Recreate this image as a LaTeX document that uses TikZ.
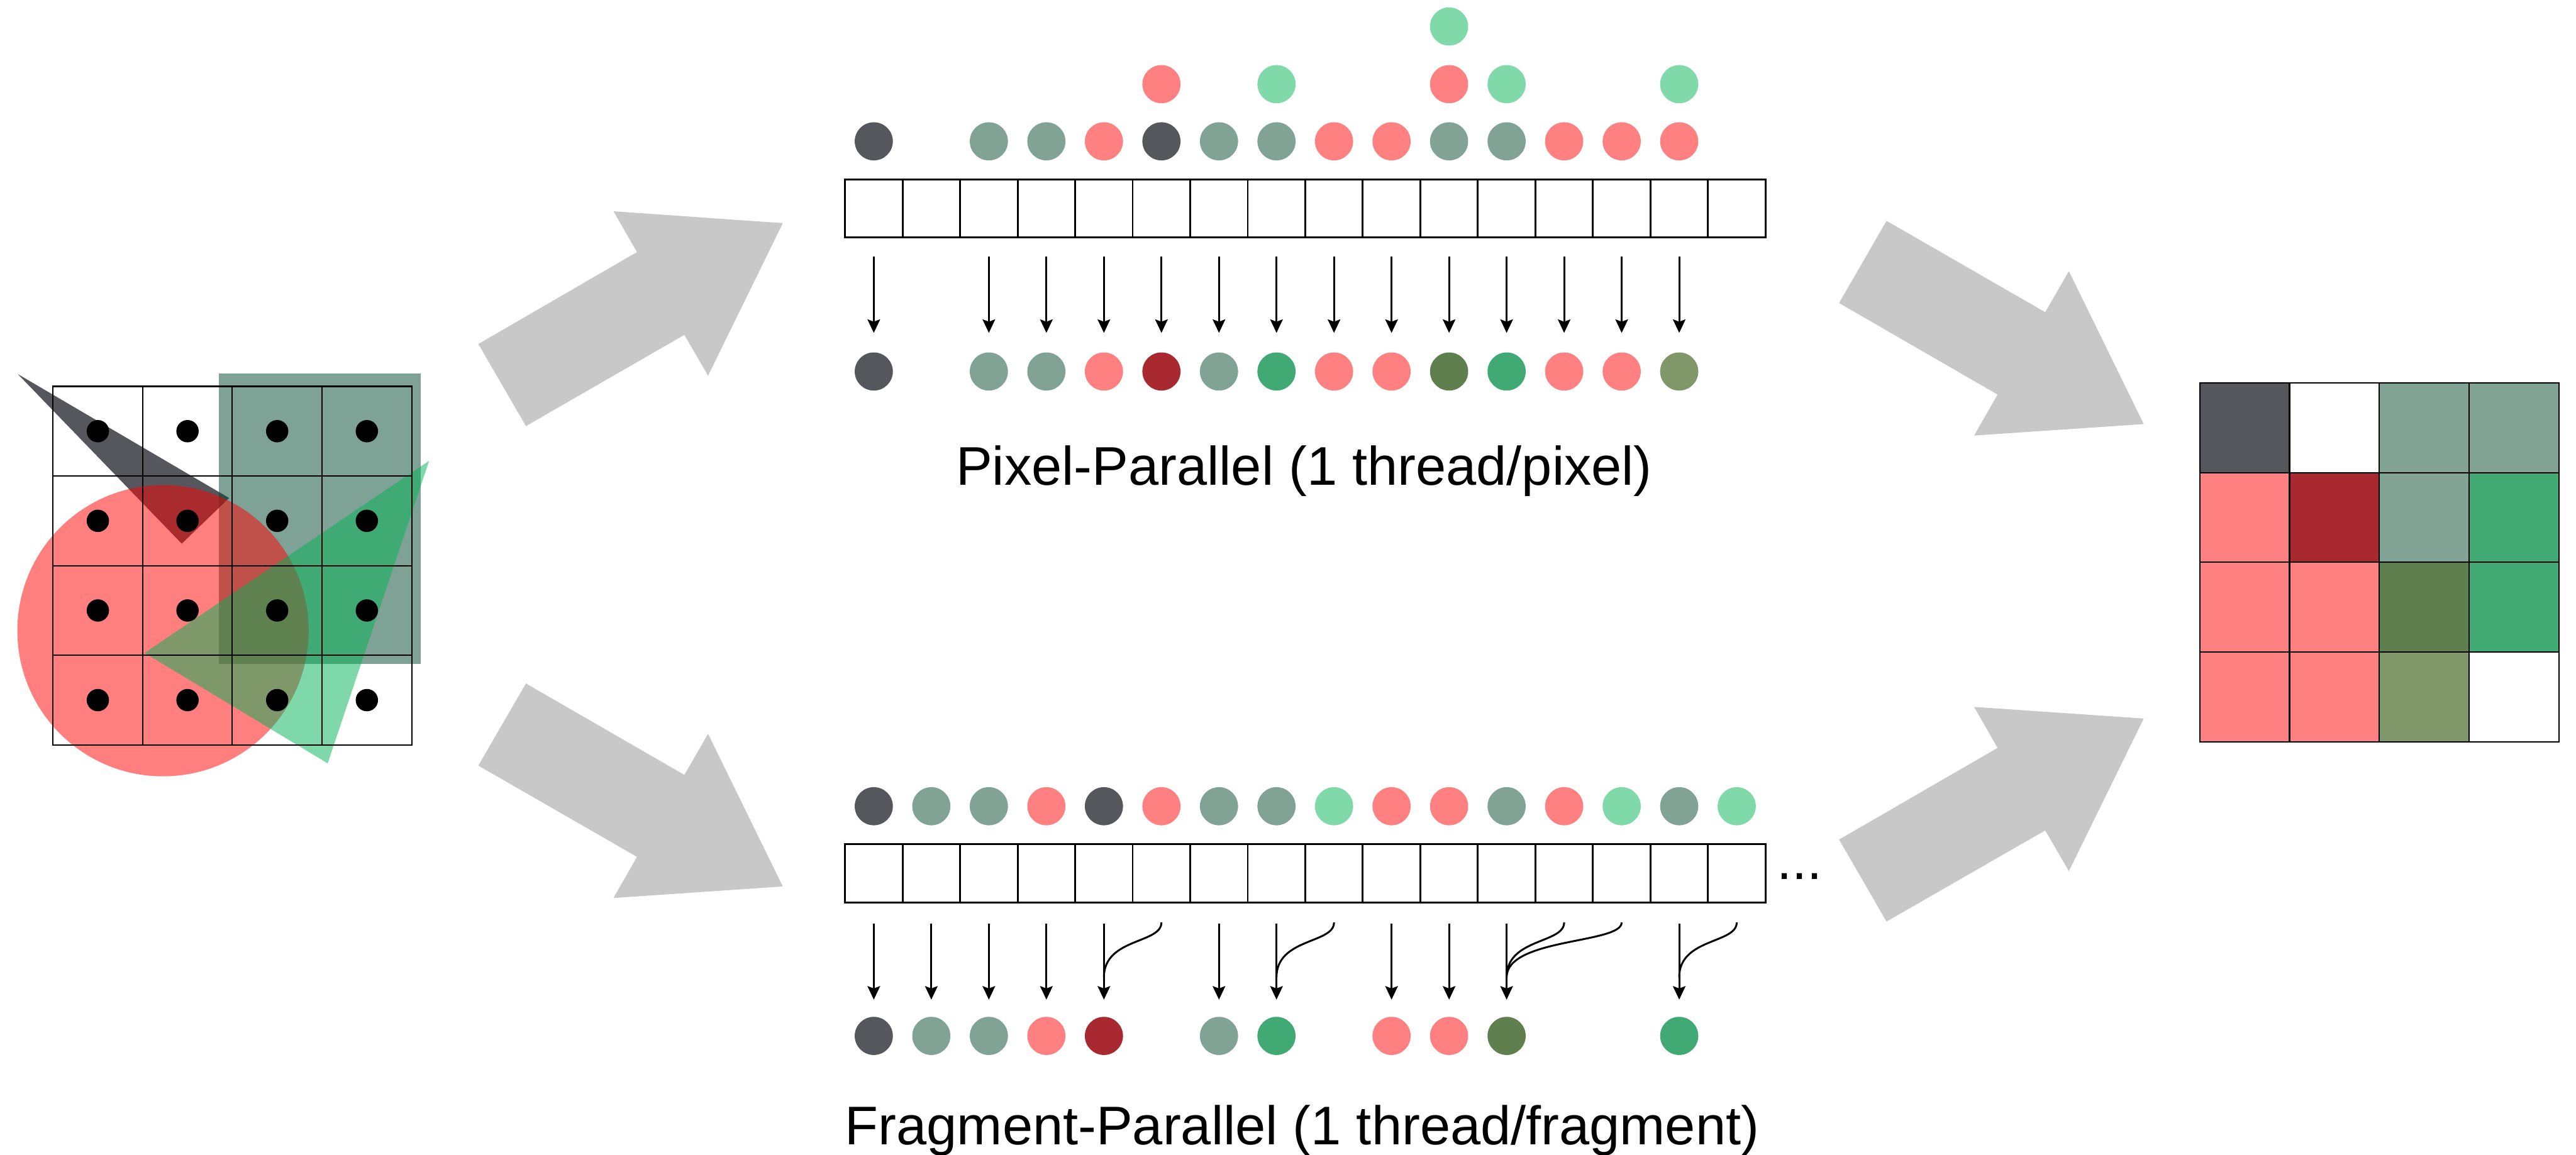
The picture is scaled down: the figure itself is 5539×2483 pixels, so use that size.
\documentclass[tikz,border=0pt]{standalone}
\usepackage{fontspec}
\setmainfont{Liberation Sans}
\usetikzlibrary{arrows.meta}

% palette
\definecolor{cdark}{RGB}{85,87,92}
\definecolor{cteal}{RGB}{128,163,150}
\definecolor{cpink}{RGB}{255,128,128}
\definecolor{clgreen}{RGB}{128,217,168}
\definecolor{cdred}{RGB}{168,42,48}
\definecolor{cgreen}{RGB}{65,169,115}
\definecolor{cdolive}{RGB}{95,127,78}
\definecolor{colive}{RGB}{128,152,105}
\definecolor{carrow}{RGB}{200,200,200}
\definecolor{rectcol}{RGB}{0,70,45}
\definecolor{trigreen}{RGB}{0,178,85}

\begin{document}
\begin{tikzpicture}[x=0.01cm,y=-0.01cm,
  dot/.style={circle,inner sep=0pt,minimum size=8.2mm,draw=none},
  sampledot/.style={circle,inner sep=0pt,minimum size=4.8mm,fill=black,draw=none},
  cellbox/.style={draw=black,line width=1.1pt,minimum width=12.37mm,minimum height=12.5mm,inner sep=0pt,outer sep=0pt},
  pixcell/.style={draw=black,line width=0.8pt,minimum size=19.3mm,inner sep=0pt,outer sep=0pt},
  gridline/.style={line width=0.8pt,line cap=rect},
  flow/.style={line width=1.15pt,-{Stealth[length=2.9mm,width=2.7mm,inset=0.5mm]}},
  merge/.style={line width=1.15pt},
  fatarrow/.style={fill=carrow,draw=none},
  lbl/.style={font=\fontsize{33.3}{40}\selectfont,inner sep=0pt,outer sep=0pt}]
\useasboundingbox (0,0) rectangle (5539,2483);

% ---------------- input primitives over the pixel grid ----------------
\fill[cdark] (38.2,804.5) -- (492.6,1071.1) -- (390.8,1169.3) -- cycle;
\fill[rectcol,fill opacity=0.5] (470.8,802.7) rectangle (905.2,1428.6);
\fill[red,fill opacity=0.5] (350.5,1356.5) circle[radius=3.13cm];
\fill[trigreen,fill opacity=0.5] (922.7,991.1) -- (310.8,1404.3) -- (704.6,1641.8) -- cycle;

\foreach \k in {0,...,4}{
  \draw[gridline] ({114+192.8*\k},831) -- ({114+192.8*\k},1602);
  \draw[gridline] (114,{831+192.8*\k}) -- (885,{831+192.8*\k});
}
\foreach \r in {0,...,3}{
  \foreach \c in {0,...,3}{
    \node[sampledot] (s\r\c) at ({114+192.8*(\c+0.5)},{831+192.8*(\r+0.5)}) {};
  }
}

% ---------------- fat arrows ----------------
\fill[fatarrow] (1028.5,739.9) -- (1369.6,542.2) -- (1319.1,454.4) -- (1683.2,479.9)
  -- (1522.5,808.1) -- (1471.5,720.2) -- (1130.9,916.5) -- cycle;
\fill[fatarrow] (1130.9,1470) -- (1028.5,1646.6) -- (1369.6,1842.9) -- (1319.1,1931.4)
  -- (1683.2,1906.6) -- (1522.5,1578.4) -- (1471.5,1666.6) -- cycle;
\fill[fatarrow] (4056.4,475) -- (3954.4,651.8) -- (4295.2,848.6) -- (4244.7,936.8)
  -- (4609.5,912.1) -- (4448.5,583.2) -- (4397.6,671.4) -- cycle;
\fill[fatarrow] (3954.4,1805.7) -- (4295.2,1608.6) -- (4244.7,1520.4) -- (4609.5,1545.4)
  -- (4448.5,1873.6) -- (4397.6,1786.1) -- (4056.4,1982.1) -- cycle;

% ---------------- pixel-parallel ----------------
\foreach \c/\col in {0/cdark,2/cteal,3/cteal,4/cpink,5/cdark,6/cteal,7/cteal,8/cpink,
                     9/cpink,10/cteal,11/cteal,12/cpink,13/cpink,14/cpink}
  \node[dot,fill=\col] (pa\c) at ({1878.85+123.7*\c},304) {};
\foreach \c/\col in {5/cpink,7/clgreen,10/cpink,11/clgreen,14/clgreen}
  \node[dot,fill=\col] (pb\c) at ({1878.85+123.7*\c},181) {};
\node[dot,fill=clgreen] (pc10) at ({1878.85+123.7*10},57) {};

\foreach \c in {0,...,15}
  \node[cellbox] (tb\c) at ({1878.85+123.7*\c},448.4) {};

\foreach \c in {0,2,3,4,5,6,7,8,9,10,11,12,13,14}{
  \coordinate (ts\c) at ({1878.85+123.7*\c},552);
  \coordinate (te\c) at ({1878.85+123.7*\c},716);
  \draw[flow] (ts\c) -- (te\c);
}
\foreach \c/\col in {0/cdark,2/cteal,3/cteal,4/cpink,5/cdred,6/cteal,7/cgreen,8/cpink,
                     9/cpink,10/cdolive,11/cgreen,12/cpink,13/cpink,14/colive}
  \node[dot,fill=\col] (pr\c) at ({1878.85+123.7*\c},799) {};

\node[lbl,anchor=base] (pplabel) at (2804,1043) {Pixel-Parallel (1 thread/pixel)};

% ---------------- fragment-parallel ----------------
\foreach \c/\col in {0/cdark,1/cteal,2/cteal,3/cpink,4/cdark,5/cpink,6/cteal,7/cteal,
                     8/clgreen,9/cpink,10/cpink,11/cteal,12/cpink,13/clgreen,14/cteal,15/clgreen}
  \node[dot,fill=\col] (fa\c) at ({1878.85+123.7*\c},1734) {};

\foreach \c in {0,...,15}
  \node[cellbox] (bb\c) at ({1878.85+123.7*\c},1878.5) {};
\node[lbl,anchor=base west] (more) at (3821,1891) {...};

\foreach \c in {0,1,2,3,4,6,7,9,10,11,14}{
  \coordinate (bs\c) at ({1878.85+123.7*\c},1986);
  \coordinate (be\c) at ({1878.85+123.7*\c},2150);
  \draw[flow] (bs\c) -- (be\c);
}
\foreach \f/\t in {5/4,8/7,12/11,13/11,15/14}{
  \coordinate (bk\f) at ({1878.85+123.7*\f},1984);
  \coordinate (bj\f) at ({1878.85+123.7*\t},2102);
  \draw[merge] (bk\f) .. controls +(0,46) and +(0,-85) .. (bj\f);
}
\foreach \c/\col in {0/cdark,1/cteal,2/cteal,3/cpink,4/cdred,6/cteal,7/cgreen,
                     9/cpink,10/cpink,11/cdolive,14/cgreen}
  \node[dot,fill=\col] (fr\c) at ({1878.85+123.7*\c},2228) {};

\node[lbl,anchor=base] (fplabel) at (2800,2462) {Fragment-Parallel (1 thread/fragment)};

% ---------------- resolved image ----------------
\foreach \rowcols [count=\r from 0] in {{cdark,white,cteal,cteal},{cpink,cdred,cteal,cgreen},
                                        {cpink,cpink,cdolive,cgreen},{cpink,cpink,colive,white}}{
  \foreach \cc [count=\c from 0] in \rowcols{
    \node[pixcell,fill=\cc] (px\r\c) at ({4730+193*(\c+0.5)},{824+192.8*(\r+0.5)}) {};
  }
}
\end{tikzpicture}
\end{document}
